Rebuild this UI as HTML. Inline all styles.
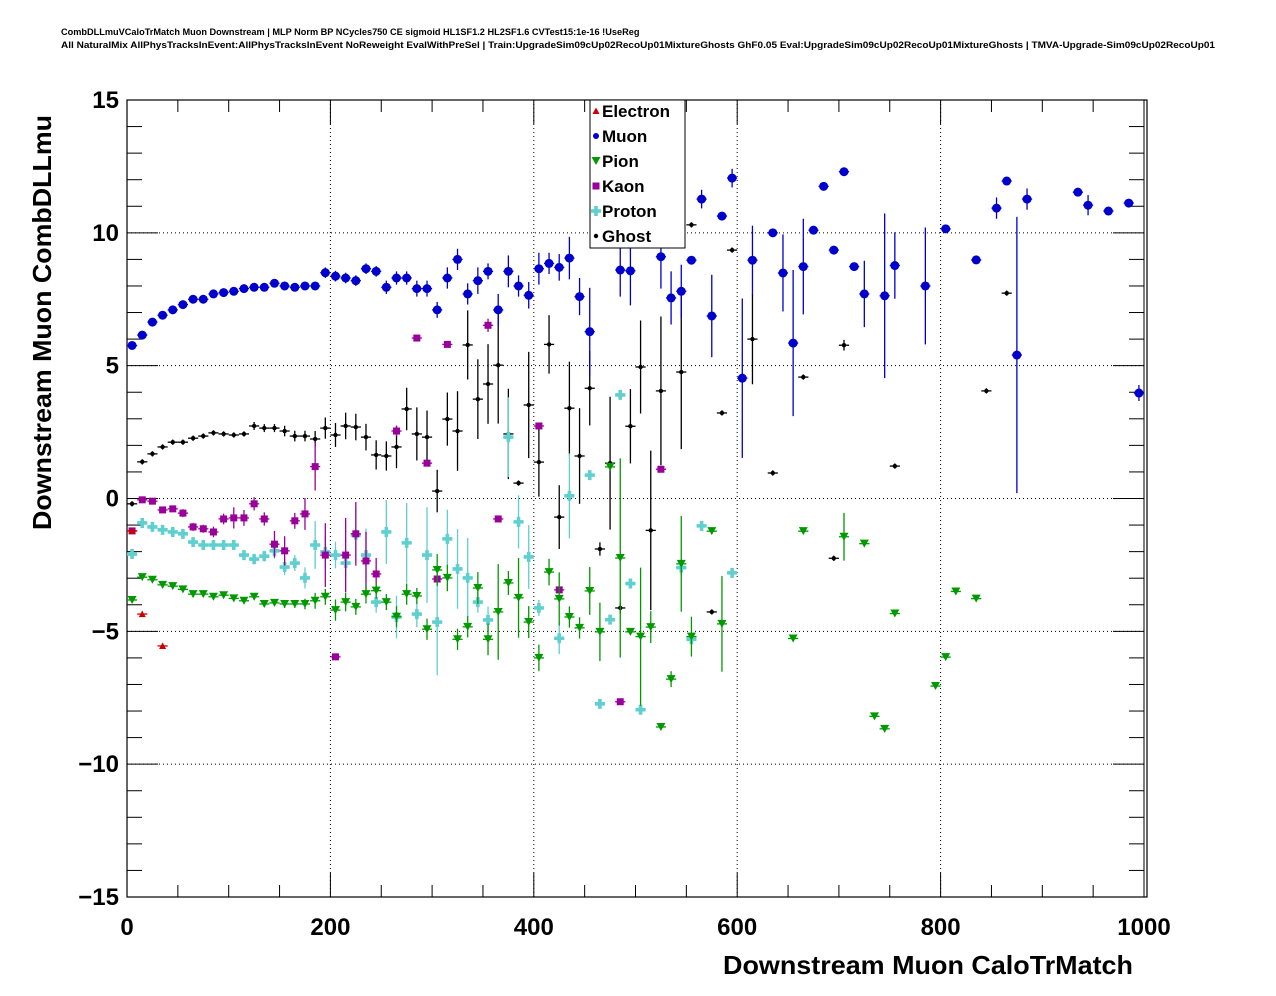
<!DOCTYPE html>
<html><head><meta charset="utf-8">
<style>
html,body{margin:0;padding:0;background:#fff;}
svg{display:block;font-family:"Liberation Sans",Arial,sans-serif;}
</style></head>
<body>
<svg id="chart" width="1276" height="996" viewBox="0 0 1276 996">
<rect x="0" y="0" width="1276" height="996" fill="#fff"/>
<text x="61" y="35" font-size="9.2" font-weight="bold">CombDLLmuVCaloTrMatch Muon Downstream | MLP Norm BP NCycles750 CE sigmoid HL1SF1.2 HL2SF1.6 CVTest15:1e-16 !UseReg</text>
<text x="61" y="48" font-size="9.2" font-weight="bold" textLength="1154" lengthAdjust="spacingAndGlyphs">All NaturalMix AllPhysTracksInEvent:AllPhysTracksInEvent NoReweight EvalWithPreSel | Train:UpgradeSim09cUp02RecoUp01MixtureGhosts GhF0.05 Eval:UpgradeSim09cUp02RecoUp01MixtureGhosts | TMVA-Upgrade-Sim09cUp02RecoUp01</text>
<g id="grid"></g>
<g id="axes"></g>
<g id="marks"></g>
<text x="1133" y="974" font-size="26" font-weight="bold" text-anchor="end" textLength="410" lengthAdjust="spacingAndGlyphs">Downstream Muon CaloTrMatch</text>
<text transform="translate(51,530) rotate(-90)" font-size="26" font-weight="bold" textLength="415" lengthAdjust="spacingAndGlyphs">Downstream Muon CombDLLmu</text>
<g id="legend"></g>
</svg>
<script>
// ---- data (bin center, value, error) ----
const muonX=[5,15,25,35,45,55,65,75,85,95,105,115,125,135,145,155,165,175,185,195,205,215,225,235,245,255,265,275,285,295,305,315,325,335,345,355,365,375,385,395,405,415,425,435,445,455,485,495,525,535,545,555,565,575,585,595,605,615,635,645,655,665,675,685,695,705,715,725,745,755,785,805,835,855,865,875,885,935,945,965,985,995];
const muonY=[5.76,6.15,6.64,6.9,7.1,7.3,7.5,7.5,7.7,7.75,7.8,7.9,7.95,7.95,8.1,8.0,7.95,8.0,8.0,8.5,8.37,8.3,8.2,8.65,8.55,7.95,8.3,8.3,7.9,7.9,7.1,8.3,9.0,7.7,8.2,8.55,7.1,8.55,8.0,7.65,8.65,8.85,8.7,9.05,7.6,6.28,8.6,8.57,9.1,7.55,7.8,8.97,11.27,6.87,10.63,12.06,4.53,8.97,10.0,8.49,5.85,8.73,10.1,11.75,9.35,12.3,8.73,7.7,7.63,8.77,8.0,10.15,8.98,10.93,11.95,5.4,11.27,11.53,11.04,10.82,11.12,3.97];
const muonE=[0.1,0.1,0.1,0.1,0.1,0.1,0.1,0.1,0.1,0.1,0.1,0.1,0.1,0.1,0.1,0.1,0.1,0.15,0.15,0.2,0.2,0.2,0.2,0.2,0.2,0.25,0.25,0.25,0.3,0.3,0.3,0.4,0.4,0.4,0.5,0.3,0.6,0.6,0.4,0.5,0.6,0.4,0.5,0.8,0.7,1.65,1.0,1.3,1.2,1.0,1.0,0.1,0.35,1.55,0.15,0.35,3.0,1.3,0.1,1.45,2.75,1.8,0.1,0.1,0.1,0.1,0.1,1.25,3.1,1.25,2.2,0.1,0.1,0.4,0.1,5.2,0.4,0.1,0.38,0.1,0.1,0.3];

const ghostX=[5,15,25,35,45,55,65,75,85,95,105,115,125,135,145,155,165,175,185,195,205,215,225,235,245,255,265,275,285,295,305,315,325,335,345,355,365,375,385,395,405,415,425,435,445,455,465,475,485,495,505,515,525,545,555,575,585,595,615,635,665,695,705,755,845,865];
const ghostY=[-0.2,1.38,1.68,1.94,2.12,2.12,2.27,2.35,2.47,2.43,2.39,2.43,2.73,2.65,2.65,2.54,2.35,2.35,2.24,2.65,2.39,2.73,2.69,2.31,1.64,1.6,1.94,3.37,2.43,2.31,0.28,2.99,2.54,5.78,3.74,4.31,5.02,2.43,0.58,3.52,1.37,5.8,-0.7,3.4,1.6,4.15,-1.9,1.33,-4.12,2.72,4.95,-1.2,4.05,4.76,10.3,-4.27,3.22,9.35,6.0,0.96,4.57,-2.25,5.77,1.22,4.05,7.73];
const ghostE=[0.1,0.1,0.1,0.1,0.1,0.1,0.1,0.1,0.1,0.1,0.1,0.1,0.15,0.15,0.15,0.2,0.2,0.2,0.3,0.4,0.45,0.5,0.5,0.5,0.55,0.55,0.8,0.8,1.0,1.0,0.8,1.0,1.5,1.3,1.5,1.5,2.2,1.7,0.1,2.0,1.3,1.1,1.2,1.75,1.8,1.4,0.25,2.5,0.2,1.4,1.75,3.0,2.8,2.9,0.1,0.1,0.1,0.1,1.7,0.1,0.1,0.1,0.2,0.1,0.1,0.1];

const pionX=[5,15,25,35,45,55,65,75,85,95,105,115,125,135,145,155,165,175,185,195,205,215,225,235,245,255,265,275,285,295,305,315,325,335,345,355,365,375,385,395,405,415,425,435,445,455,465,475,485,495,505,515,525,535,545,555,575,585,655,665,705,725,735,745,755,795,805,815,835];
const pionY=[-3.82,-2.96,-3.06,-3.25,-3.3,-3.42,-3.6,-3.6,-3.7,-3.64,-3.76,-3.85,-3.7,-3.97,-3.93,-3.97,-3.97,-3.97,-3.85,-3.7,-4.2,-3.9,-4.08,-3.6,-3.47,-3.9,-4.45,-3.6,-3.67,-4.92,-2.69,-2.99,-5.3,-4.83,-3.37,-5.3,-4.27,-3.18,-3.74,-4.65,-6.0,-2.77,-3.78,-4.46,-4.87,-3.48,-5.02,1.19,-2.24,-5.02,-5.2,-4.84,-8.6,-6.8,-2.46,-5.2,-1.23,-4.72,-5.27,-1.23,-1.44,-1.7,-8.2,-8.67,-4.33,-7.06,-5.97,-3.5,-3.77];
const pionE=[0.1,0.1,0.1,0.1,0.1,0.1,0.1,0.1,0.1,0.1,0.1,0.1,0.1,0.1,0.1,0.15,0.15,0.2,0.3,0.3,0.4,0.35,0.3,0.35,0.3,0.3,0.4,0.4,0.3,0.4,0.6,0.5,0.4,0.4,0.6,0.6,1.8,0.45,1.5,0.6,0.5,0.5,1.0,0.4,0.4,0.9,1.1,0.1,3.75,0.1,2.6,0.6,0.1,0.3,1.8,0.75,0.1,1.8,0.1,0.1,0.9,0.1,0.1,0.1,0.1,0.1,0.1,0.1,0.1];

const kaonX=[5,15,25,35,45,55,65,75,85,95,105,115,125,135,145,155,165,175,185,195,205,215,225,235,245,265,285,295,305,315,355,365,405,425,485,525];
const kaonY=[-1.22,-0.05,-0.1,-0.43,-0.39,-0.55,-1.07,-1.14,-1.26,-0.77,-0.73,-0.73,-0.2,-0.77,-1.72,-1.97,-0.84,-0.58,1.2,-2.13,-5.96,-2.13,-1.33,-2.35,-2.84,2.54,6.04,1.33,-3.03,5.8,6.52,-0.77,2.73,-3.44,-7.65,1.1];
const kaonE=[0.1,0.1,0.1,0.1,0.1,0.15,0.15,0.15,0.2,0.2,0.4,0.3,0.25,0.25,0.5,0.55,0.3,0.6,0.9,1.2,0.1,1.4,1.2,1.1,0.6,0.2,0.1,0.1,0.1,0.1,0.25,0.1,0.1,0.1,0.1,0.1];

const protonX=[5,15,25,35,45,55,65,75,85,95,105,115,125,135,145,155,165,175,185,195,205,215,225,235,245,255,265,275,285,295,305,315,325,335,345,355,375,385,395,405,425,435,455,465,475,485,495,505,545,555,565,595];
const protonY=[-2.09,-0.92,-1.07,-1.18,-1.26,-1.33,-1.64,-1.75,-1.75,-1.75,-1.75,-2.13,-2.28,-2.17,-1.97,-2.58,-2.43,-2.99,-1.75,-2.01,-2.13,-2.43,-1.37,-2.13,-3.9,-1.26,-4.46,-1.67,-4.35,-2.13,-4.65,-1.52,-2.65,-2.99,-3.9,-4.57,2.31,-0.88,-2.2,-4.12,-5.26,0.1,0.88,-7.73,-4.56,3.9,-3.2,-7.95,-2.6,-5.3,-1.03,-2.8];
const protonE=[0.1,0.1,0.1,0.1,0.1,0.1,0.1,0.1,0.1,0.1,0.1,0.15,0.2,0.2,0.3,0.3,0.3,0.4,0.9,0.6,0.5,0.5,1.0,1.0,0.4,1.2,0.8,1.5,0.5,1.8,2.0,1.1,1.5,1.5,0.4,0.5,1.5,1.0,1.2,0.3,0.6,1.6,0.1,0.1,0.1,0.1,0.1,0.1,0.3,0.1,0.1,0.1];

const electronX=[5,15,35];
const electronY=[-1.22,-4.35,-5.55];
const electronE=[0.1,0.1,0.1];

const xTicks=[0,200,400,600,800,1000];
const yTicks=[-15,-10,-5,0,5,10,15];

// ---- axes ----
const L=127,R=1144,FR=1147,T=100,B=897;
const X=v=>L+(v-0)*(R-L)/1000;
const Y=v=>B-(v+15)*(B-T)/30;
const NS="http://www.w3.org/2000/svg";
function mk(tag,attrs,parent){const e=document.createElementNS(NS,tag);for(const k in attrs)e.setAttribute(k,attrs[k]);parent.appendChild(e);return e;}
const grid=document.getElementById('grid'),axes=document.getElementById('axes'),marks=document.getElementById('marks'),legend=document.getElementById('legend');

xTicks.forEach(t=>{
  if(t>0){const g=mk('line',{x1:X(t),x2:X(t),y1:T,y2:B,stroke:'#000','stroke-width':1,'stroke-dasharray':'1,3'},grid);
  
  }
  const tl=mk('text',{x:X(t),y:935,'font-size':24,'font-weight':'bold','text-anchor':'middle'},axes);
  tl.textContent=t;
  
  
});
yTicks.forEach(t=>{
  if(t>-15&&t<15){const g=mk('line',{x1:L,x2:R,y1:Y(t),y2:Y(t),stroke:'#000','stroke-width':1,'stroke-dasharray':'1,3'},grid);
  
  }
  const tl=mk('text',{x:119,y:Y(t)+8,'font-size':24,'font-weight':'bold','text-anchor':'end'},axes);
  tl.textContent=(t<0?'\u2212'+(-t):t);
  
  
});
// ticks
for(let v=0;v<=1000;v+=50){const len=(v%200===0)?24:12;
  mk('line',{x1:X(v),x2:X(v),y1:B,y2:B-len,stroke:'#000','stroke-width':1},axes);
  mk('line',{x1:X(v),x2:X(v),y1:T,y2:T+len,stroke:'#000','stroke-width':1},axes);}
for(let v=-15;v<=15;v+=1){const len=(v%5===0)?31:15;
  mk('line',{x1:L,x2:L+len,y1:Y(v),y2:Y(v),stroke:'#000','stroke-width':1},axes);
  mk('line',{x1:R,x2:R-len,y1:Y(v),y2:Y(v),stroke:'#000','stroke-width':1},axes);}
mk('line',{x1:R,x2:R,y1:T,y2:B,stroke:'#000','stroke-width':1},axes);
const fr=mk('rect',{x:L,y:T,width:FR-L,height:B-T,fill:'none',stroke:'#000','stroke-width':1.2},axes);



function marker(kind,cx,cy,color,parent){
  if(kind==='circle')return mk('circle',{cx:cx,cy:cy,r:4.5,fill:color},parent);
  if(kind==='dot')return mk('circle',{cx:cx,cy:cy,r:2.2,fill:color},parent);
  if(kind==='square')return mk('rect',{x:cx-3.5,y:cy-3.5,width:7,height:7,fill:color},parent);
  if(kind==='down')return mk('polygon',{points:`${cx-4.5},${cy-4} ${cx+4.5},${cy-4} ${cx},${cy+4}`,fill:color},parent);
  if(kind==='up')return mk('polygon',{points:`${cx-3.5},${cy+3} ${cx+3.5},${cy+3} ${cx},${cy-3.5}`,fill:color},parent);
  if(kind==='plus')return mk('path',{d:`M${cx-1.8},${cy-5}h3.6v3.2h3.2v3.6h-3.2v3.2h-3.6v-3.2h-3.2v-3.6h3.2z`,fill:color},parent);
}
function series(name,xs,ys,es,kind,color){
  const g=mk('g',{},marks);
  
  
  xs.forEach((xv,i)=>{
    const cx=X(xv),cy=Y(ys[i]),e=es[i];
    mk('line',{x1:X(xv-5),x2:X(xv+5),y1:cy,y2:cy,stroke:color,'stroke-width':1.3},g);
    mk('line',{x1:cx,x2:cx,y1:Y(ys[i]+e),y2:Y(ys[i]-e),stroke:color,'stroke-width':1.3},g);
    const m=marker(kind,cx,cy,color,g);
    
    
  });
}
series('ghost',ghostX,ghostY,ghostE,'dot','#000');
series('proton',protonX,protonY,protonE,'plus','#5fcfcf');
series('kaon',kaonX,kaonY,kaonE,'square','#990099');
series('pion',pionX,pionY,pionE,'down','#009900');
series('muon',muonX,muonY,muonE,'circle','#0000cc');
series('electron',electronX,electronY,electronE,'up','#cc0000');

// legend
const lb=mk('rect',{x:590,y:100,width:95,height:148,fill:'#fff',stroke:'#000','stroke-width':1},legend);


const entries=[['Electron','up','#cc0000'],['Muon','circle','#0000cc'],['Pion','down','#009900'],['Kaon','square','#990099'],['Proton','plus','#5fcfcf'],['Ghost','dot','#000']];
entries.forEach((en,i)=>{
  const y=111+i*25;
  const g=mk('g',{},legend);
  
  
  const m=marker(en[1],596,y,en[2],g);
  if(en[1]==='circle'){m.setAttribute('r',3);}
  const t=mk('text',{x:602,y:y+6,'font-size':17,'font-weight':'bold'},g);
  t.textContent=en[0];
});
</script>
</body></html>
